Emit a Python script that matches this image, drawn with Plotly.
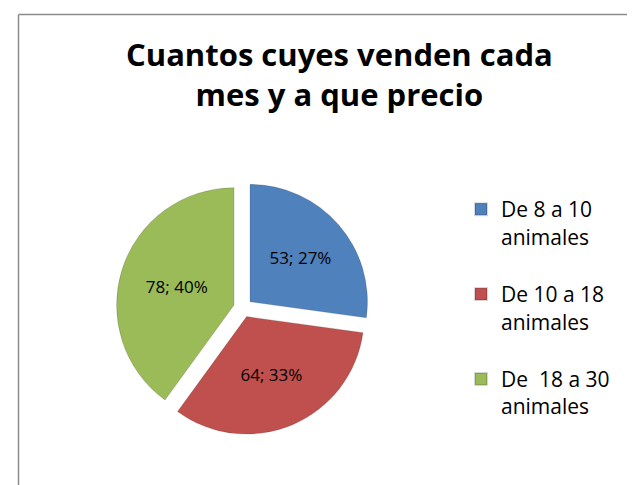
import plotly.graph_objects as go

W, H = 635, 485

categories = ["De 8 a 10<br>animales<br> ", "De 10 a 18<br>animales<br> ", "De  18 a 30<br>animales"]
values = [53, 64, 78]
colors = ["#4F81BD", "#C0504D", "#9BBB59"]
title_text = "Cuantos cuyes venden cada<br>mes y a que precio"

fig = go.Figure()
fig.add_trace(go.Pie(
    labels=categories,
    values=values,
    sort=False,
    direction="clockwise",
    rotation=0,
    pull=[0.08, 0.08, 0.08],
    marker=dict(colors=colors, line=dict(color="rgba(0,0,0,0.15)", width=1)),
    texttemplate="%{value}; %{percent:.0%}",
    textposition="inside",
    insidetextorientation="horizontal",
    textfont=dict(family="Open Sans, sans-serif", size=17, color="#000000"),
    domain=dict(x=[0.17, 0.57], y=[0.12, 0.643]),
    hovertemplate="%{value}; %{percent:.0%}<extra></extra>",
))

def px_x(x):
    return x / W

def px_y(y):
    return 1 - y / H

fig.update_layout(
    width=W, height=H,
    margin=dict(l=0, r=0, t=0, b=0),
    paper_bgcolor="white",
    plot_bgcolor="white",
    showlegend=True,
    legend=dict(
        x=px_x(453), y=px_y(181), xanchor="left", yanchor="top",
        font=dict(family="Open Sans, sans-serif", size=21, color="#000000"),
        itemsizing="constant",
        valign="top",
        bgcolor="rgba(0,0,0,0)",
    ),
    annotations=[dict(
        text="<b>" + title_text + "</b>",
        x=px_x(331), y=px_y(66), xref="paper", yref="paper",
        xanchor="center", yanchor="middle", showarrow=False,
        font=dict(family="Open Sans, sans-serif", size=31, color="#000000"),
        align="center",
    )],
    shapes=[
        dict(type="line", xref="paper", yref="paper",
             x0=px_x(10.5), x1=px_x(634), y0=px_y(6.5), y1=px_y(6.5),
             line=dict(color="#8c8c8c", width=1.5)),
        dict(type="line", xref="paper", yref="paper",
             x0=px_x(10.5), x1=px_x(10.5), y0=px_y(6.5), y1=0,
             line=dict(color="#8c8c8c", width=1.5)),
    ],
)

fig.write_html("out.html")
